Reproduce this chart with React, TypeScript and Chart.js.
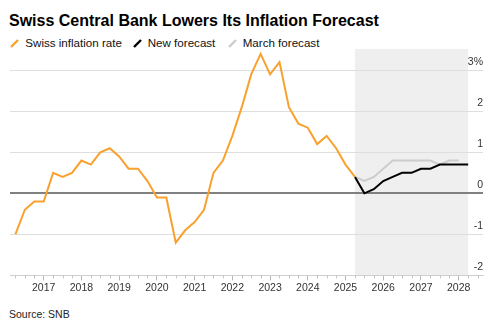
import React, { useEffect, useRef } from 'react';
import { Chart, registerables } from 'chart.js';

Chart.register(...registerables);

// ---- Data ----
const quarters = [
  '2016Q1', '2016Q2', '2016Q3', '2016Q4',
  '2017Q1', '2017Q2', '2017Q3', '2017Q4',
  '2018Q1', '2018Q2', '2018Q3', '2018Q4',
  '2019Q1', '2019Q2', '2019Q3', '2019Q4',
  '2020Q1', '2020Q2', '2020Q3', '2020Q4',
  '2021Q1', '2021Q2', '2021Q3', '2021Q4',
  '2022Q1', '2022Q2', '2022Q3', '2022Q4',
  '2023Q1', '2023Q2', '2023Q3', '2023Q4',
  '2024Q1', '2024Q2', '2024Q3', '2024Q4',
  '2025Q1',
];
const inflation = [
  -1.0, -0.4, -0.2, -0.2,
  0.5, 0.4, 0.5, 0.8,
  0.7, 1.0, 1.1, 0.9,
  0.6, 0.6, 0.3, -0.1,
  -0.1, -1.2, -0.9, -0.7,
  -0.4, 0.5, 0.8, 1.4,
  2.1, 2.9, 3.4, 2.9,
  3.2, 2.1, 1.7, 1.6,
  1.2, 1.4, 1.1, 0.7,
  0.4,
];

const newForecastQuarters = [
  '2025Q1', '2025Q2', '2025Q3', '2025Q4',
  '2026Q1', '2026Q2', '2026Q3', '2026Q4',
  '2027Q1', '2027Q2', '2027Q3', '2027Q4',
  '2028Q1',
];
const newForecast = [0.4, 0.0, 0.1, 0.3, 0.4, 0.5, 0.5, 0.6, 0.6, 0.7, 0.7, 0.7, 0.7];

const marchForecastQuarters = [
  '2025Q1', '2025Q2', '2025Q3', '2025Q4',
  '2026Q1', '2026Q2', '2026Q3', '2026Q4',
  '2027Q1', '2027Q2', '2027Q3', '2027Q4',
];
const marchForecast = [0.4, 0.3, 0.4, 0.6, 0.8, 0.8, 0.8, 0.8, 0.8, 0.7, 0.8, 0.8];

const forecastPeriod = ['2025Q1', '2028Q1'];

const xTickValues = [2017, 2018, 2019, 2020, 2021, 2022, 2023, 2024, 2025, 2026, 2027, 2028];
const xTickLabels = ['2017', '2018', '2019', '2020', '2021', '2022', '2023', '2024', '2025', '2026', '2027', '2028'];
const yTickValues = [-2, -1, 0, 1, 2, 3];
const yTickLabels = ['-2', '-1', '0', '1', '2', '3%'];

const legendItems = [
  { label: 'Swiss inflation rate', color: '#f9a12e' },
  { label: 'New forecast', color: '#000000' },
  { label: 'March forecast', color: '#cccccc' },
];

// ---- Helpers ----
const FONT = '"Liberation Sans", Arial, Helvetica, sans-serif';
const ORANGE = '#f9a12e';
const BLACK = '#000000';
const GREY = '#cccccc';

// quarter-end position as decimal year
const qx = (q: string) => {
  const y = parseInt(q.slice(0, 4), 10);
  const n = parseInt(q.slice(5), 10);
  return y + n / 4;
};

const X_MIN = 2016.107;
const X_MAX = 2028.644;

const shadePlugin = {
  id: 'forecastShade',
  beforeDraw(chart: any) {
    const { ctx, chartArea, scales } = chart;
    const x = scales.x;
    const x0 = x.getPixelForValue(qx(forecastPeriod[0]));
    const x1 = x.getPixelForValue(qx(forecastPeriod[1]));
    ctx.save();
    ctx.fillStyle = '#efefef';
    ctx.fillRect(x0, chartArea.top, x1 - x0, chartArea.bottom - chartArea.top);
    ctx.restore();
  },
};

const minorTickPlugin = {
  id: 'minorTicks',
  afterDraw(chart: any) {
    const { ctx, chartArea, scales } = chart;
    const x = scales.x;
    ctx.save();
    ctx.strokeStyle = '#c4c4c4';
    ctx.lineWidth = 1;
    ctx.beginPath();
    for (let k = Math.ceil(X_MIN * 4); k <= Math.floor(X_MAX * 4); k++) {
      if (k % 4 === 0) continue;
      const px = Math.round(x.getPixelForValue(k / 4)) + 0.5;
      ctx.moveTo(px, chartArea.bottom);
      ctx.lineTo(px, chartArea.bottom + 3);
    }
    ctx.stroke();
    ctx.restore();
  },
};

function LegendMark({ color }: { color: string }) {
  return (
    <svg width="9" height="9" style={{ position: 'absolute', left: 0, top: 0 }}>
      <line x1="1" y1="8" x2="8" y2="1" stroke={color} strokeWidth="2.4" />
    </svg>
  );
}

export default function App() {
  const canvasRef = useRef<HTMLCanvasElement | null>(null);

  useEffect(() => {
    if (!canvasRef.current) return;
    const chart = new Chart(canvasRef.current, {
      type: 'line',
      data: {
        datasets: [
          {
            label: 'Swiss inflation rate',
            data: quarters.map((q, i) => ({ x: qx(q), y: inflation[i] })),
            borderColor: ORANGE,
            borderWidth: 2,
            pointRadius: 0,
            tension: 0,
          },
          {
            label: 'New forecast',
            data: newForecastQuarters.map((q, i) => ({ x: qx(q), y: newForecast[i] })),
            borderColor: BLACK,
            borderWidth: 2,
            pointRadius: 0,
            tension: 0,
          },
          {
            label: 'March forecast',
            data: marchForecastQuarters.map((q, i) => ({ x: qx(q), y: marchForecast[i] })),
            borderColor: GREY,
            borderWidth: 2,
            pointRadius: 0,
            tension: 0,
          },
        ],
      },
      options: {
        animation: false,
        responsive: false,
        maintainAspectRatio: false,
        layout: { padding: { left: 10, right: 17, top: 49, bottom: 5 } },
        plugins: {
          legend: { display: false },
          tooltip: { enabled: false },
          title: { display: false },
        },
        scales: {
          x: {
            type: 'linear',
            min: X_MIN,
            max: X_MAX,
            afterBuildTicks: (scale: any) => {
              scale.ticks = xTickValues.map((v) => ({ value: v }));
            },
            ticks: {
              autoSkip: false,
              maxRotation: 0,
              padding: 1,
              color: '#333333',
              font: { family: FONT, size: 10.5 },
              callback: (_v: any, i: number) => xTickLabels[i],
            },
            grid: {
              drawOnChartArea: false,
              drawTicks: true,
              tickLength: 5,
              color: '#b8b8b8',
            },
            border: { display: true, color: '#cfcfcf', width: 1 },
          },
          y: {
            position: 'right',
            min: -2,
            max: 3.518,
            afterBuildTicks: (scale: any) => {
              scale.ticks = yTickValues.map((v) => ({ value: v }));
            },
            afterFit: (scale: any) => {
              scale.width = 0;
            },
            ticks: {
              mirror: true,
              padding: 0,
              labelOffset: -8.5,
              color: '#333333',
              font: { family: FONT, size: 10.5 },
              callback: (_v: any, i: number) => yTickLabels[i],
            },
            grid: {
              drawTicks: false,
              color: (ctx: any) => (ctx.tick && ctx.tick.value === 0 ? '#808080' : '#dedede'),
              lineWidth: (ctx: any) => (ctx.tick && ctx.tick.value === 0 ? 2 : 1),
            },
            border: { display: false },
          },
        },
      } as any,
      plugins: [shadePlugin, minorTickPlugin],
    });
    return () => chart.destroy();
  }, []);

  const legendLeft = [10, 132.7, 227.7];
  const legendTextLeft = [25.3, 147.7, 242.7];

  return (
    <div
      style={{
        position: 'fixed',
        left: 0,
        top: 0,
        width: 500,
        height: 325,
        background: '#ffffff',
        fontFamily: FONT,
        color: '#000',
        overflow: 'hidden',
      }}
    >
      <div
        style={{
          position: 'absolute',
          left: 9,
          top: 13,
          fontSize: 16,
          lineHeight: '16px',
          fontWeight: 700,
          whiteSpace: 'nowrap',
          color: '#000',
        }}
      >
        Swiss Central Bank Lowers Its Inflation Forecast
      </div>
      {legendItems.map((it, i) => (
        <React.Fragment key={it.label}>
          <div style={{ position: 'absolute', left: legendLeft[i], top: 38.5, width: 9, height: 9 }}>
            <LegendMark color={it.color} />
          </div>
          <div
            style={{
              position: 'absolute',
              left: legendTextLeft[i],
              top: 36,
              fontSize: 11.6,
              lineHeight: '14px',
              whiteSpace: 'nowrap',
              color: '#111',
            }}
          >
            {it.label}
          </div>
        </React.Fragment>
      ))}
      <canvas
        ref={canvasRef}
        width={500}
        height={300}
        style={{ position: 'absolute', left: 0, top: 0, width: 500, height: 300 }}
      />
      <div
        style={{
          position: 'absolute',
          left: 9,
          top: 307.5,
          fontSize: 10.5,
          lineHeight: '12px',
          whiteSpace: 'nowrap',
          color: '#222',
        }}
      >
        Source: SNB
      </div>
    </div>
  );
}
